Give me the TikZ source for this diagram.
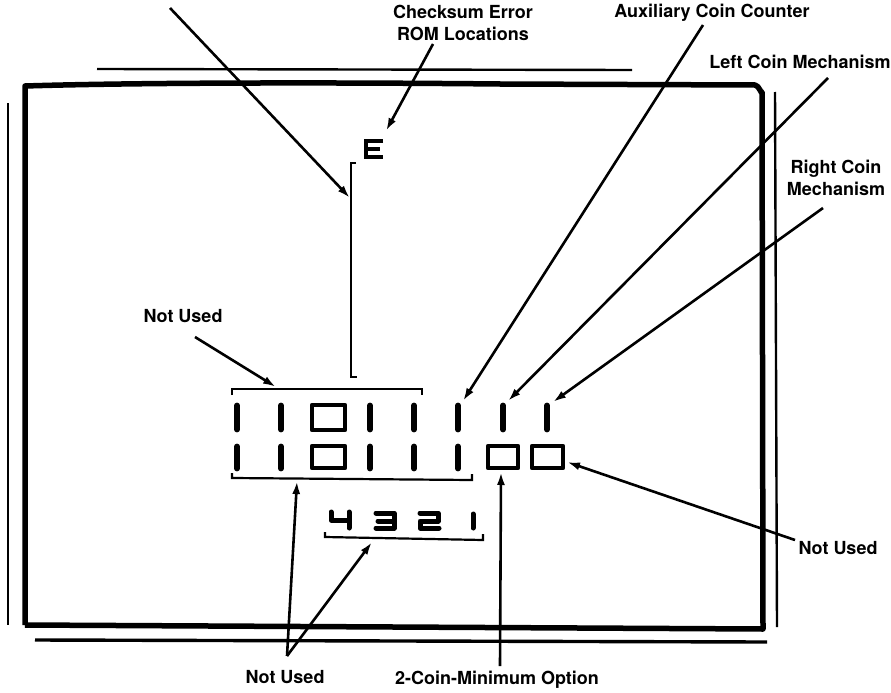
\documentclass[tikz,border=0pt]{standalone}
\usepackage{fontspec}
\setmainfont{TeX Gyre Heros}
\usetikzlibrary{arrows.meta}
\begin{document}
\begin{tikzpicture}[x=1pt,y=-1pt,
  lbl/.style={font=\fontsize{18}{21.5}\selectfont\bfseries, align=center, inner sep=0pt},
  arr/.style={line width=2.6pt, -{Latex[length=13pt,width=8pt]}},
  frame/.style={line width=5.5pt, line join=round},
  thin/.style={line width=2.4pt},
  seg/.style={line width=5.8pt, line cap=round},
  box/.style={line width=4.8pt, line join=round},
  brk/.style={line width=2.2pt},
  dig/.style={line width=5pt, line cap=round, line join=round}]
\useasboundingbox (0,0) rectangle (891,693);
% frame
\draw[thin] (97,69) -- (632,70);
\draw[frame] (25,625) -- (25,86) .. controls (120,83) and (300,82) .. (500,84) -- (755,85) to[out=0,in=-90] (762,92) -- (763,629) -- (25,625);
\draw[thin] (8,103) -- (8,625);
\draw[thin] (775,92) -- (777,627);
\draw[line width=3.4pt] (35,640) -- (767,642);
% labels
\node[lbl] (chk) at (463,23) {Checksum Error\\ROM Locations};
\node[lbl] (aux) at (712,13) {Auxiliary Coin Counter};
\node[lbl] (lcm) at (800,62) {Left Coin Mechanism};
\node[lbl] (rcm) at (836,178) {Right Coin\\Mechanism};
\node[lbl] (nul) at (183,316) {Not Used};
\node[lbl] (nur) at (838,548) {Not Used};
\node[lbl] (nub) at (285,677) {Not Used};
\node[lbl] (two) at (497,680) {2-Coin-Minimum Option};
% E
\draw[line width=3.8pt] (383,141) -- (366,141) -- (366,157) -- (383,157) (366,149) -- (380,149);
\coordinate (eT) at (386,131);
% vertical bracket
\draw[brk] (356,163) -- (351,163) -- (351,377) -- (357,377);
\coordinate (vb) at (350,198);
\coordinate (vs) at (170,8);
% row 1
\foreach \x in {237,281,370,414,458,503,547} \draw[seg] (\x,405.5) -- (\x,429.5);
\draw[box] (312,405) rectangle (345,430);
% row 2
\foreach \x in {237,281,370,414,458} \draw[seg] (\x,446.5) -- (\x,468.5);
\draw[box] (312,446) rectangle (345,468);
\draw[box] (488,446) rectangle (518,468);
\draw[box] (532,446) rectangle (563,468);
% brackets
\draw[brk] (232,395) -- (232,389) -- (422,389) -- (422,395);
\draw[brk] (232,473) -- (232,478) -- (472,480) -- (472,474);
\draw[brk] (325,532) -- (325,537) -- (483,540) -- (483,534);
% 4321
\draw[dig] (331,512) -- (331,520) -- (349,520) (349,512) -- (349,528);
\draw[dig] (376,513) -- (394,513) -- (394,528) -- (376,528) (378,521) -- (394,521);
\draw[dig] (420,513) -- (438,513) -- (438,521) -- (420,521) -- (420,528) -- (439,528);
\draw[dig] (473,514) -- (473,528);
% arrow endpoints
\coordinate (chkS) at (433,44);
\coordinate (auxS) at (703,25);
\coordinate (auxT) at (463,401);
\coordinate (lcmS) at (828,78);
\coordinate (lcmT) at (508,401);
\coordinate (rcmS) at (823,208);
\coordinate (rcmT) at (553,402);
\coordinate (nulS) at (195,337);
\coordinate (nulT) at (276,387);
\coordinate (nubS) at (287,656);
\coordinate (nubT1) at (297,481);
\coordinate (nubT2) at (372,542);
\coordinate (twoS) at (500,666);
\coordinate (twoT) at (501,472);
\coordinate (nurS) at (795,540);
\coordinate (nurT) at (567,462);
% arrows
\draw[arr] (vs) -- (vb);
\draw[arr] (chkS) -- (eT);
\draw[arr] (auxS) -- (auxT);
\draw[arr] (lcmS) -- (lcmT);
\draw[arr] (rcmS) -- (rcmT);
\draw[arr] (nulS) -- (nulT);
\draw[arr] (nubS) -- (nubT1);
\draw[arr] (nubS) -- (nubT2);
\draw[arr] (twoS) -- (twoT);
\draw[arr] (nurS) -- (nurT);
\end{tikzpicture}
\end{document}
